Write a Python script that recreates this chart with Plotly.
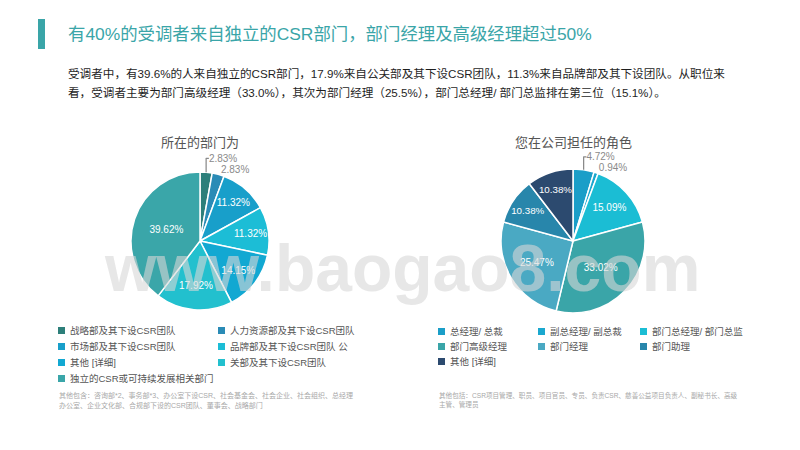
import plotly.graph_objects as go

W, H = 800, 450

title_text = "有40%的受调者来自独立的CSR部门，部门经理及高级经理超过50%"
para_lines = [
    "受调者中，有39.6%的人来自独立的CSR部门，17.9%来自公关部及其下设CSR团队，11.3%来自品牌部及其下设团队。从职位来",
    "看，受调者主要为部门高级经理（33.0%），其次为部门经理（25.5%），部门总经理/ 部门总监排在第三位（15.1%）。",
]

dept_title = "所在的部门为"
dept_labels = [
    "战略部及其下设CSR团队",
    "人力资源部及其下设CSR团队",
    "市场部及其下设CSR团队",
    "品牌部及其下设CSR团队 公",
    "其他 [详细]",
    "关部及其下设CSR团队",
    "独立的CSR或可持续发展相关部门",
]
dept_values = [2.83, 2.83, 11.32, 11.32, 14.15, 17.92, 39.62]
dept_colors = ["#2d7f7a", "#2a8bb6", "#189fca", "#1cbdd6", "#12a8d2", "#22c0ce", "#3aa6a9"]
dept_textpos = ["outside", "outside", "inside", "inside", "inside", "inside", "inside"]
dept_note = ["其他包含：咨询部*2、事务部*3、办公室下设CSR、社会基金会、社会企业、社会组织、总经理",
             "办公室、企业文化部、合规部下设的CSR团队、董事会、战略部门"]

role_title = "您在公司担任的角色"
role_labels = ["总经理/ 总裁", "副总经理/ 副总裁", "部门总经理/ 部门总监", "部门高级经理",
               "部门经理", "部门助理", "其他 [详细]"]
role_values = [4.72, 0.94, 15.09, 33.02, 25.47, 10.38, 10.38]
role_colors = ["#1a9ec8", "#1aa8cf", "#1bbdd4", "#3aa5a8", "#4aa9c3", "#2886ab", "#2c4a6f"]
role_textpos = ["outside", "outside", "inside", "inside", "inside", "inside", "inside"]
role_note = ["其他包括：CSR项目管理、职员、项目官员、专员、负责CSR、慈善公益项目负责人、副秘书长、高级",
             "主管、管理员"]

FONT = "Liberation Sans, Noto Sans CJK SC, sans-serif"


def px(x):
    return x / W


def py(y):
    return 1 - y / H


fig = go.Figure()

fig.add_trace(go.Pie(
    labels=dept_labels, values=dept_values, sort=False, direction="clockwise", rotation=0,
    marker=dict(colors=dept_colors, line=dict(color="white", width=1.5)),
    texttemplate="%{value:.2f}%", textposition=dept_textpos,
    insidetextorientation="horizontal",
    insidetextfont=dict(color="white", size=10, family=FONT),
    outsidetextfont=dict(color="#8a8a8a", size=10, family=FONT),
    domain=dict(x=[px(131), px(269)], y=[py(310), py(172)]),
    showlegend=False, hoverinfo="label+value",
))

fig.add_trace(go.Pie(
    labels=role_labels, values=role_values, sort=False, direction="clockwise", rotation=0,
    marker=dict(colors=role_colors, line=dict(color="white", width=1.5)),
    texttemplate="%{value:.2f}%", textposition=role_textpos,
    insidetextorientation="horizontal",
    insidetextfont=dict(color="white", size=10, family=FONT),
    outsidetextfont=dict(color="#8a8a8a", size=10, family=FONT),
    domain=dict(x=[px(501), px(645)], y=[py(313), py(169)]),
    showlegend=False, hoverinfo="label+value",
))

shapes = [dict(type="rect", xref="paper", yref="paper",
               x0=px(38), x1=px(45), y0=py(49), y1=py(19),
               fillcolor="#3aa5a8", line=dict(width=0))]
annotations = []

annotations.append(dict(text=title_text, x=px(66), y=py(34), xref="paper", yref="paper",
                        xanchor="left", yanchor="middle", showarrow=False,
                        font=dict(size=17.4, color="#3aa5a8", family=FONT)))
for i, line in enumerate(para_lines):
    annotations.append(dict(text=line, x=px(66), y=py(73 + 19 * i), xref="paper", yref="paper",
                            xanchor="left", yanchor="middle", showarrow=False,
                            font=dict(size=11.6, color="#1e1e1e", family=FONT)))

annotations.append(dict(text=dept_title, x=px(200), y=py(142), xref="paper", yref="paper",
                        xanchor="center", yanchor="middle", showarrow=False,
                        font=dict(size=13, color="#555555", family=FONT)))
annotations.append(dict(text=role_title, x=px(573), y=py(143), xref="paper", yref="paper",
                        xanchor="center", yanchor="middle", showarrow=False,
                        font=dict(size=13, color="#555555", family=FONT)))


def add_legend(labels, colors, cols_x, rows_y, ncol):
    for i, (lab, col) in enumerate(zip(labels, colors)):
        cx = cols_x[i % ncol]
        cy = rows_y[i // ncol]
        shapes.append(dict(type="rect", xref="paper", yref="paper",
                           x0=px(cx), x1=px(cx + 7), y0=py(cy + 4), y1=py(cy - 3),
                           fillcolor=col, line=dict(width=0)))
        annotations.append(dict(text=lab, x=px(cx + 10), y=py(cy), xref="paper", yref="paper",
                                xanchor="left", yanchor="middle", showarrow=False,
                                font=dict(size=9.5, color="#555555", family=FONT)))


add_legend(dept_labels, dept_colors, [58, 218], [330, 346, 362, 378], 2)
add_legend(role_labels, role_colors, [438, 538, 640], [331, 346, 361], 3)

for i, line in enumerate(dept_note):
    annotations.append(dict(text=line, x=px(57), y=py(395 + 10 * i), xref="paper", yref="paper",
                            xanchor="left", yanchor="middle", showarrow=False,
                            font=dict(size=7, color="#a8a8a8", family=FONT)))
for i, line in enumerate(role_note):
    annotations.append(dict(text=line, x=px(437), y=py(395 + 9 * i), xref="paper", yref="paper",
                            xanchor="left", yanchor="middle", showarrow=False,
                            font=dict(size=6.6, color="#a8a8a8", family=FONT)))

# watermark
annotations.append(dict(text="www.baogao8.com", x=px(402), y=py(268), xref="paper", yref="paper",
                        xanchor="center", yanchor="middle", showarrow=False,
                        font=dict(size=66, color="rgba(215,215,215,0.6)",
                                  family="Liberation Sans", weight="bold")))

fig.update_layout(
    width=W, height=H, margin=dict(l=0, r=0, t=0, b=0),
    paper_bgcolor="white", plot_bgcolor="white",
    shapes=shapes, annotations=annotations,
    font=dict(family=FONT),
)

fig.write_html("out.html", config={"displayModeBar": False},
               post_script="document.body.style.margin='0px';")
